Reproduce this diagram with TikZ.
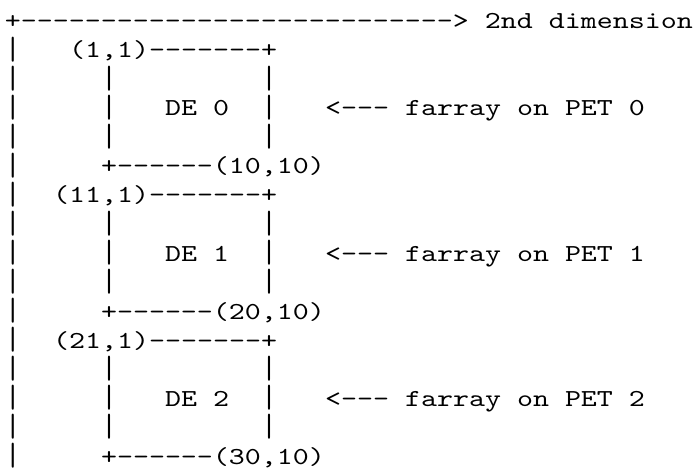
\documentclass[tikz,border=0pt]{standalone}
\usepackage{fontspec}
\setmonofont{lmmono10-regular.otf}[FakeStretch=1.249]
\usetikzlibrary{positioning}
\newcommand\asciisize{\fontsize{24.4pt}{29pt}\selectfont}
% a taller bar, as the typewriter one is short
\newcommand\asciibar{\raisebox{-1.5pt}{\scalebox{1}[1.32]{|}}}
\tikzset{
  asciitext/.style={anchor=base west,inner sep=0pt,outer sep=0pt,font=\ttfamily\asciisize},
  asciiright/.style={asciitext,anchor=base east}
}

\begin{document}
\begin{tikzpicture}[x=16pt,y=-29pt]
    \path[use as bounding box,fill=white] (0pt,0pt) rectangle (695pt,-470pt);
    \begin{scope}[shift={(5pt,0pt)}]
    \node[asciitext] (axis) at (0,1) {+---------------------------> 2nd dimension};
    \foreach \r in {2,...,16}
      \node[asciitext] (rail\r) at (0,\r) {\asciibar};
    \foreach \b in {0,1,2} {
      \pgfmathtruncatemacro{\rowtop}{2+5*\b}
      \pgfmathtruncatemacro{\firstnum}{10*\b+1}
      \pgfmathtruncatemacro{\lastnum}{10*\b+10}
      \node[asciiright] (corner\b) at (17,\rowtop) {(\firstnum,1)-------+};
      \foreach \k in {1,2,3} {
        \node[asciitext] (left\b\k) at (6,\rowtop+\k) {\asciibar};
        \node[asciitext] (right\b\k) at (16,\rowtop+\k) {\asciibar};
      }
      \node[asciitext] (de\b) at (10,\rowtop+2) {DE \b};
      \node[asciitext] (farray\b) at (20,\rowtop+2) {<--- farray on PET \b};
      \node[asciitext] (end\b) at (6,\rowtop+4) {+------(\lastnum,10)};
    }
    \end{scope}
  \end{tikzpicture}
\end{document}
